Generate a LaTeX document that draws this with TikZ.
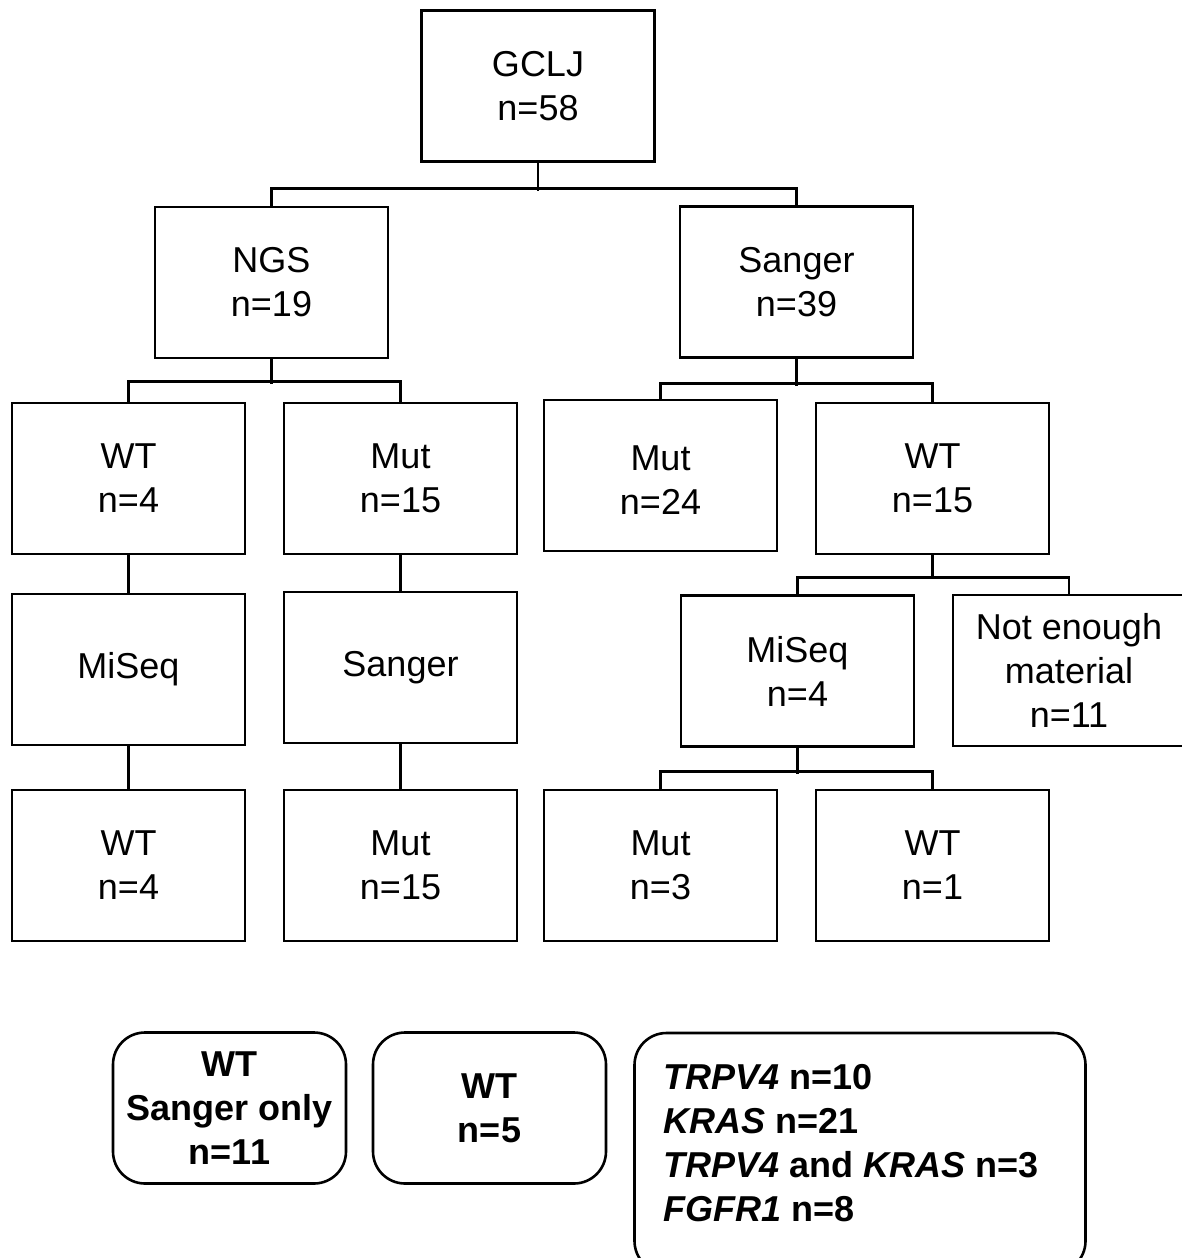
\documentclass[tikz,border=0pt]{standalone}
\usepackage{fontspec}
\setmainfont{Liberation Sans}
\begin{document}
\begin{tikzpicture}[x=1pt,y=-1pt,
  box/.style={draw=black,line width=2.6pt,minimum width=233pt,minimum height=151pt,inner sep=0pt,align=center,font=\fontsize{36}{44}\selectfont},
  rbox/.style={box,rounded corners=32pt,font=\fontsize{36}{44}\selectfont\bfseries},
  conn/.style={draw=black,line width=2.6pt}]
\useasboundingbox (0,0) rectangle (1182,1258);
\node[box] (gclj) at (538,86) {GCLJ\\n=58};
\node[box] (ngs) at (271.5,282.5) {NGS\\n=19};
\node[box] (sang) at (796.5,282) {Sanger\\n=39};
\node[box] (wt1) at (128.5,478.5) {WT\\n=4};
\node[box] (mut1) at (400.5,478.5) {Mut\\n=15};
\node[box] (mut2) at (660.5,475.5) {\rule{0pt}{33pt}Mut\\n=24};
\node[box] (wt2) at (932.5,478.5) {WT\\n=15};
\node[box] (miseq1) at (128.5,669.5) {MiSeq};
\node[box] (sang2) at (400.5,667.5) {Sanger};
\node[box] (miseq2) at (797.5,671) {MiSeq\\n=4};
\node[box,minimum width=232pt] (nem) at (1069,670.5) {Not enough\\material\\n=11};
\node[box] (wt3) at (128.5,865.5) {WT\\n=4};
\node[box] (mut3) at (400.5,865.5) {Mut\\n=15};
\node[box] (mut4) at (660.5,865.5) {Mut\\n=3};
\node[box] (wt4) at (932.5,865.5) {WT\\n=1};
\node[rbox] (b1) at (229.5,1108) {WT\\Sanger only\\n=11};
\node[rbox] (b2) at (489.5,1108) {WT\\n=5};
\node[rbox,minimum width=451pt,minimum height=240pt] (b3) at (860,1153) {};
\node[anchor=west,align=left,inner sep=0pt,font=\fontsize{36}{44}\selectfont\bfseries] (b3t) at (663,1143)
  {\textit{TRPV4} n=10\\\textit{KRAS} n=21\\\textit{TRPV4} and \textit{KRAS} n=3\\\textit{FGFR1} n=8};
% connectors
\draw[conn] (gclj.south) -- ++(0,28);
\draw[conn] (ngs.north) -- ++(0,-17) -| (sang.north);
\draw[conn] (ngs.south) -- ++(0,25);
\draw[conn] (wt1.north) -- ++(0,-20) -| (mut1.north);
\draw[conn] (sang.south) -- ++(0,27);
\draw[conn] (mut2.north) -- ++(0,-15) -| (wt2.north);
\draw[conn] (wt1.south) -- (miseq1.north);
\draw[conn] (mut1.south) -- (sang2.north);
\draw[conn] (wt2.south) -- ++(0,24);
\draw[conn] (miseq2.north) -- ++(0,-17) -| (nem.north);
\draw[conn] (miseq1.south) -- (wt3.north);
\draw[conn] (sang2.south) -- (mut3.north);
\draw[conn] (miseq2.south) -- ++(0,26);
\draw[conn] (mut4.north) -- ++(0,-17) -| (wt4.north);
\end{tikzpicture}
\end{document}
